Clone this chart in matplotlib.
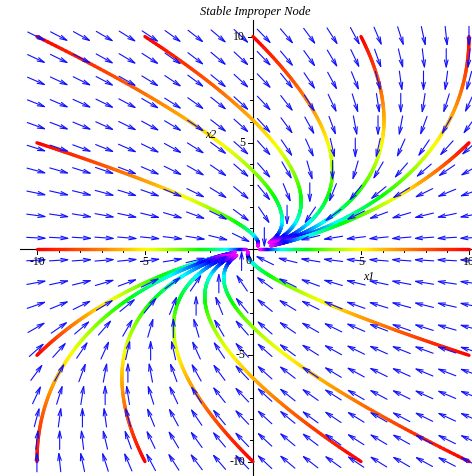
"""
Phase portrait of a stable improper node:
    x1' = -x1 + x2
    x2' = -x2
Direction field plus a few trajectories coloured by time.
"""

import numpy as np
import matplotlib
matplotlib.use("Agg")
import matplotlib.pyplot as plt
from matplotlib.collections import LineCollection


# system matrix
A = np.array([[-1.0, 1.0],
              [0.0, -1.0]])

# initial conditions of the plotted trajectories
start_x1 = [-10, -5, 0, 5, 10, -10, 10, -10, 10, -10, 10, -10, -5, 0, 5, 10]
start_x2 = [10, 10, 10, 10, 10, 5, 5, 0, 0, -5, -5, -10, -10, -10, -10, -10]

t_end = 3.5          # integration time
hue_rate = 0.24      # hue per unit of time

# direction-field grid (20 x 20 over the plot window)
field_x1 = np.linspace(-10, 10, 20)
field_x2 = np.linspace(-10, 10, 20)

major_ticks = [-10, -5, 5, 10]
minor_ticks = [v for v in range(-10, 11) if v % 5 != 0]

xlim = (-11.71, 10.14)
ylim = (-10.68, 11.72)

W, H = 472, 476
fig = plt.figure(figsize=(W / 100, H / 100), dpi=100)
ax = fig.add_axes([0, 0, 1, 1])
ax.set_xlim(*xlim)
ax.set_ylim(*ylim)
ax.axis("off")

# pixels per data unit
sx = W / (xlim[1] - xlim[0])
sy = H / (ylim[1] - ylim[0])

serif = "Liberation Serif"

# ------------------------------------------------------------------
# axes through the origin
# ------------------------------------------------------------------
ax.plot([-10.79, xlim[1]], [0, 0], color="black", lw=0.8, zorder=1)
ax.plot([0, 0], [ylim[0], 10.78], color="black", lw=0.8, zorder=1)

for v in minor_ticks:
    ax.plot([v, v], [0, -3 / sy], color="black", lw=0.7, zorder=1)
    ax.plot([0, -3 / sx], [v, v], color="black", lw=0.7, zorder=1)
for v in major_ticks:
    ax.plot([v, v], [0, -5 / sy], color="black", lw=0.7, zorder=1)
    ax.plot([0, -5 / sx], [v, v], color="black", lw=0.7, zorder=1)
    ax.text(v, -13 / sy, f"{v}", ha="center", va="center",
            fontsize=8.5, family=serif, zorder=4)
    ax.text(-8 / sx, v, f"{v}", ha="right", va="center",
            fontsize=8.5, family=serif, zorder=4)
ax.text(-4 / sx, -12 / sy, "0", ha="center", va="center",
        fontsize=8.5, family=serif, zorder=4)

# ------------------------------------------------------------------
# trajectories: x(t) = exp(At) x0, with A = -I + N
# ------------------------------------------------------------------
t = np.linspace(0, t_end, 400)
cmap = plt.get_cmap("hsv")
for a, b in zip(start_x1, start_x2):
    x1 = (a + b * t) * np.exp(-t)
    x2 = b * np.exp(-t)
    pts = np.column_stack([x1, x2]).reshape(-1, 1, 2)
    segs = np.concatenate([pts[:-1], pts[1:]], axis=1)
    tm = 0.5 * (t[:-1] + t[1:])
    lc = LineCollection(segs, colors=cmap(hue_rate * tm), linewidths=2.4,
                        capstyle="round", zorder=2)
    ax.add_collection(lc)

# ------------------------------------------------------------------
# direction field, arrows of equal screen length
# ------------------------------------------------------------------
half = 10.25  # half arrow length, pixels
for gx in field_x1:
    for gy in field_x2:
        u, v = A @ np.array([gx, gy])
        px, py = u * sx, v * sy
        n = np.hypot(px, py)
        dx, dy = px / n * half / sx, py / n * half / sy
        ax.annotate("", xy=(gx + dx, gy + dy), xytext=(gx - dx, gy - dy),
                    arrowprops=dict(arrowstyle="->,head_length=0.5,head_width=0.13",
                                    color="#1010ff", lw=0.8,
                                    shrinkA=0, shrinkB=0),
                    zorder=3)

# ------------------------------------------------------------------
# labels
# ------------------------------------------------------------------
fig.text(369 / W, 1 - 277 / H, "x1", ha="center", va="center",
         fontsize=8.5, family=serif, style="italic")
fig.text(211 / W, 1 - 135 / H, "x2", ha="center", va="center",
         fontsize=8.5, family=serif, style="italic")
fig.text(255 / W, 1 - 12 / H, "Stable Improper Node", ha="center",
         va="center", fontsize=9, family=serif, style="italic")

fig.savefig("out.png", dpi=100)
